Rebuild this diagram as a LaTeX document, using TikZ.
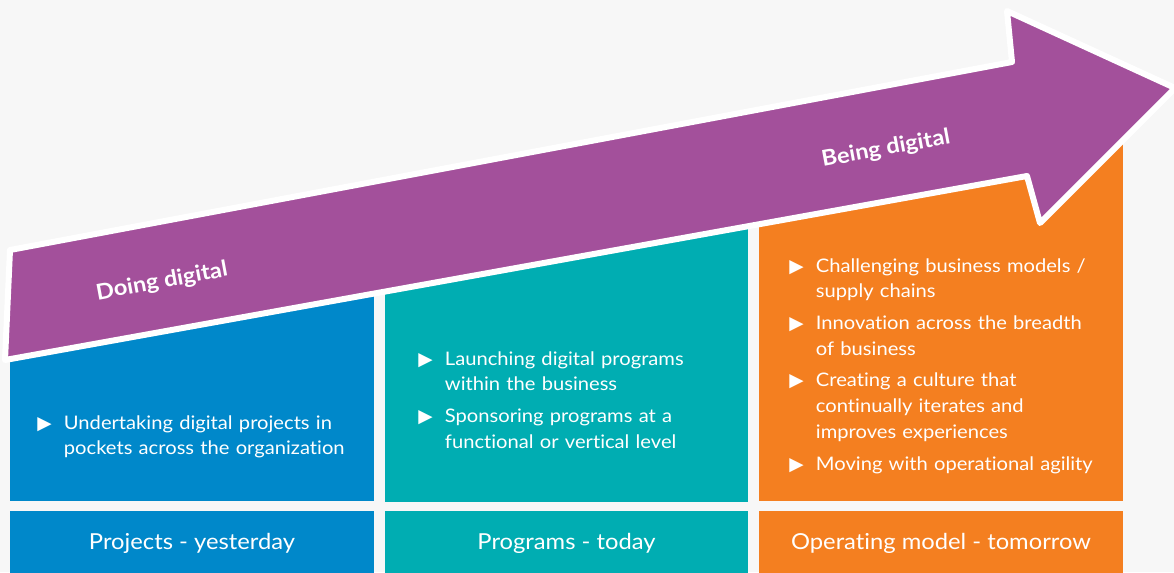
\documentclass[tikz,border=0pt]{standalone}
\usepackage{fontspec}
\setmainfont{Lato}[FakeStretch=1.08, Ligatures=NoCommon]
\newfontfamily\bulf{DejaVu Sans}
\definecolor{bgc}{HTML}{F7F7F7}
\definecolor{arrowc}{HTML}{A3509B}
\definecolor{bluec}{HTML}{0088CA}
\definecolor{tealc}{HTML}{00ADB2}
\definecolor{orangec}{HTML}{F47F20}
\newcommand\bitem[1]{\noindent\hangindent=20pt\hangafter=1\makebox[20pt][l]{\bulf\fontsize{14pt}{14pt}\selectfont ▶}#1\par}
\tikzset{
  bullets/.style={text=white, anchor=base west, inner sep=0pt, text width=300pt,
    font=\fontsize{14pt}{19.3pt}\selectfont\setlength{\parskip}{4.5pt}},
  title/.style={text=white, anchor=base, inner sep=0pt, font=\fontsize{16.5pt}{18pt}\selectfont},
  phase/.style={text=white, inner sep=0pt, rotate=10.5, font=\bfseries\fontsize{16.4pt}{18pt}\selectfont}
}
\begin{document}
\begin{tikzpicture}[x=0.75pt,y=-0.75pt]
\useasboundingbox (0,0) rectangle (1174,572);
\fill[bgc] (0,0) rectangle (1174,572);
% upper boxes
\fill[bluec] (10,270) rectangle (374,501);
\fill[tealc] (385,200) rectangle (748,502);
\fill[orangec] (759,140) rectangle (1123,501);
% lower boxes
\fill[bluec] (10,511) rectangle (374,580);
\fill[tealc] (385,511) rectangle (748,580);
\fill[orangec] (759,511) rectangle (1123,580);
% arrow
\draw[white, line width=4.5pt, line join=round, fill=arrowc]
  (10,250) -- (1012,62) -- (1007,11) -- (1175,88) -- (1040,223) -- (1027,176) -- (5,360) -- cycle;
\node[phase] (doing) at (162,282) {Doing digital};
\node[phase] (being) at (886,149) {Being digital};
% bullet texts
\node[bullets] (b1) at (37,429) {\bitem{Undertaking digital projects in\newline pockets across the organization}};
\node[bullets] (b2) at (418,365) {\bitem{Launching digital programs\newline within the business}\bitem{Sponsoring programs at a\newline functional or vertical level}};
\node[bullets] (b3) at (789,272) {\bitem{Challenging business models /\newline supply chains}\bitem{Innovation across the breadth\newline of business}\bitem{Creating a culture that\newline continually iterates and\newline improves experiences}\bitem{Moving with operational agility}};
% titles
\node[title] (t1) at (192,549) {Projects - yesterday};
\node[title] (t2) at (566.5,549) {Programs - today};
\node[title] (t3) at (941,549) {Operating model - tomorrow};
\end{tikzpicture}
\end{document}
